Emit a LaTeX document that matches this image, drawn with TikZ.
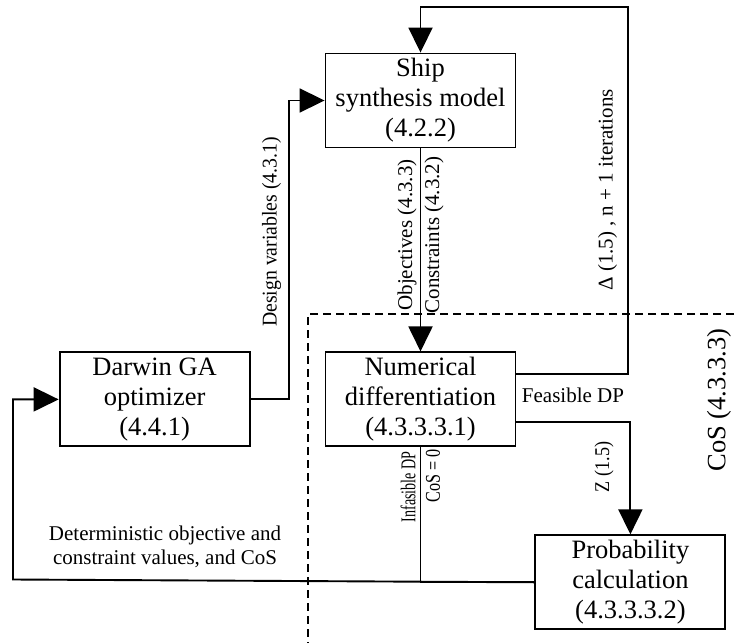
\documentclass[tikz,border=0pt]{standalone}
\usepackage{fontspec}
\setmainfont{Liberation Serif}
\usetikzlibrary{positioning,calc,arrows.meta}
\tikzset{
  >={Triangle[length=25pt,width=24pt]},
  my box/.style={
    draw,
    rectangle,
    align=center,
    minimum width=190pt,
    minimum height=94pt,
    inner sep=2pt,
    font=\fontsize{26.5}{30}\selectfont
  },
  my label/.style={
    inner sep=0pt,
    font=\fontsize{21}{24}\selectfont
  },
  my side/.style={
    my label,
    rotate=90
  },
  my region/.style={
    dashed,
    dash pattern=on 8pt off 5pt
  }
}
\newcommand{\narrow}[2]{\scalebox{#1}[1]{#2}}

\begin{document}
\begin{tikzpicture}[x=1pt,y=-1pt,line width=1.9pt]
\useasboundingbox (0,0) rectangle (734,643);
\node (ship)    [my box] at (420.5,100.5)               {Ship\\synthesis model\\(4.2.2)};
\node (numdiff) [my box,below=203pt of ship]            {Numerical\\differentiation\\(4.3.3.3.1)};
\node (darwin)  [my box,left=74pt of numdiff]           {Darwin GA\\optimizer\\(4.4.1)};
\node (prob)    [my box,below right=87pt and 18pt of numdiff] {Probability\\calculation\\(4.3.3.3.2)};
\coordinate (loop) at (628,7);
\coordinate (back) at (13,579.5);
% CoS region
\draw[my region] (734,314) -| (308,643);
\node (region) [my side,font=\fontsize{26.5}{30}\selectfont] at (719,400) {CoS (4.3.3.3)};
\draw[->] (darwin.east) -- ++(38,0) |- (ship.west);
\draw[->] (ship.south) to (numdiff.north);
\draw[->] ([yshift=25pt]numdiff.east) -| (loop) -| (ship.north);
\draw[->] ([yshift=-23pt]numdiff.east) -| (prob.north);
\draw (numdiff.south) |- (prob.west);
\draw[->] (prob.west) -- (back) |- (darwin.west);
\node (dv)   [my side] at (271.5,232) {\narrow{0.94}{Design variables (4.3.1)}};
\node (obj)  [my side] at (407,235)   {Objectives (4.3.3)};
\node (con)  [my side] at (434,235)   {Constraints (4.3.2)};
\node (iter) [my side] at (607.5,190) {Δ (1.5) , n + 1 iterations};
\node (feas) [my label] at (573,395)  {Feasible DP};
\node (z)    [my side] at (604,467)   {\narrow{0.86}{Z (1.5)}};
\node (inf)  [my side] at (408,487)   {\narrow{0.67}{Infasible DP}};
\node (cos)  [my side] at (433,476)   {\narrow{0.77}{CoS = 0}};
\node (ret)  [my label,align=center] at (165,547) {Deterministic objective and\\constraint values, and CoS};
\end{tikzpicture}
\end{document}
